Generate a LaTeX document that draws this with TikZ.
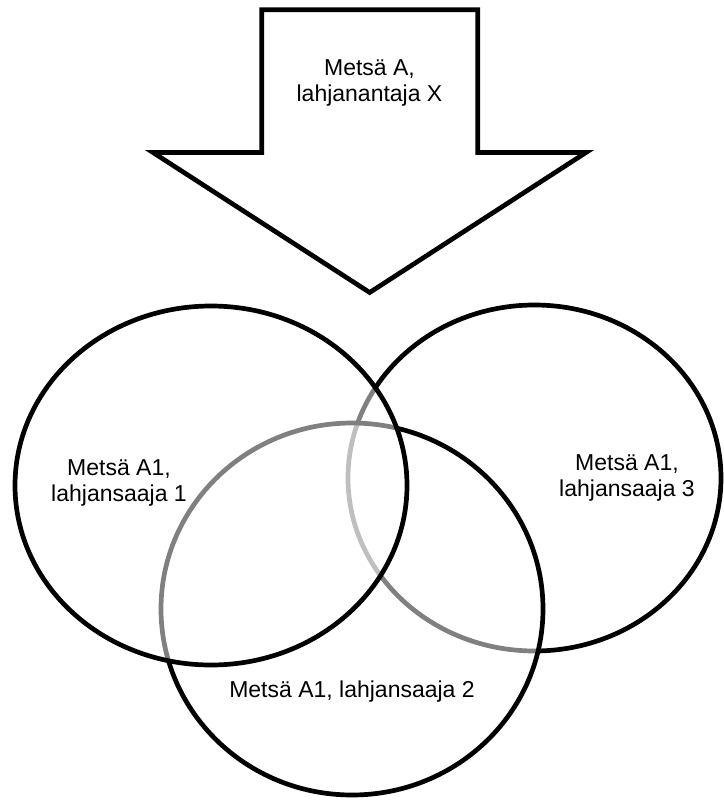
\documentclass[tikz,border=0pt]{standalone}
\usepackage{fontspec}
\setmainfont{Liberation Sans}
\begin{document}
\begin{tikzpicture}[x=1pt,y=-1pt,
  outline/.style={line width=4.7pt,draw=black,fill=white,fill opacity=0.5},
  arrowshape/.style={line width=4.7pt,draw=black,fill=white,line join=miter},
  label/.style={align=center,inner sep=0pt,font=\fontsize{23}{26}\selectfont}]
  \useasboundingbox (0,0) rectangle (723,803);

  % three overlapping recipient areas, lowest layer first
  \filldraw[outline] (534.5,478) ellipse [x radius=186.5, y radius=173];
  \filldraw[outline] (352,609) ellipse [x radius=191, y radius=186];
  \filldraw[outline] (211,485.5) ellipse [x radius=196, y radius=179.5];

  % block arrow from the donor
  \filldraw[arrowshape] (261.7,9.8) -- (477.7,9.8) -- (477.7,152.5) -- (586,152.5)
    -- (369.7,292.5) -- (153,152.5) -- (261.7,152.5) -- cycle;

  \node[label] (donor) at (369.5,83) {Metsä A,\\lahjanantaja X};
  \node[label] (r1) at (119,483) {Metsä A1,\\lahjansaaja 1};
  \node[label] (r3) at (627,478) {Metsä A1,\\lahjansaaja 3};
  \node[label] (r2) at (352,692) {Metsä A1, lahjansaaja 2};
\end{tikzpicture}
\end{document}
